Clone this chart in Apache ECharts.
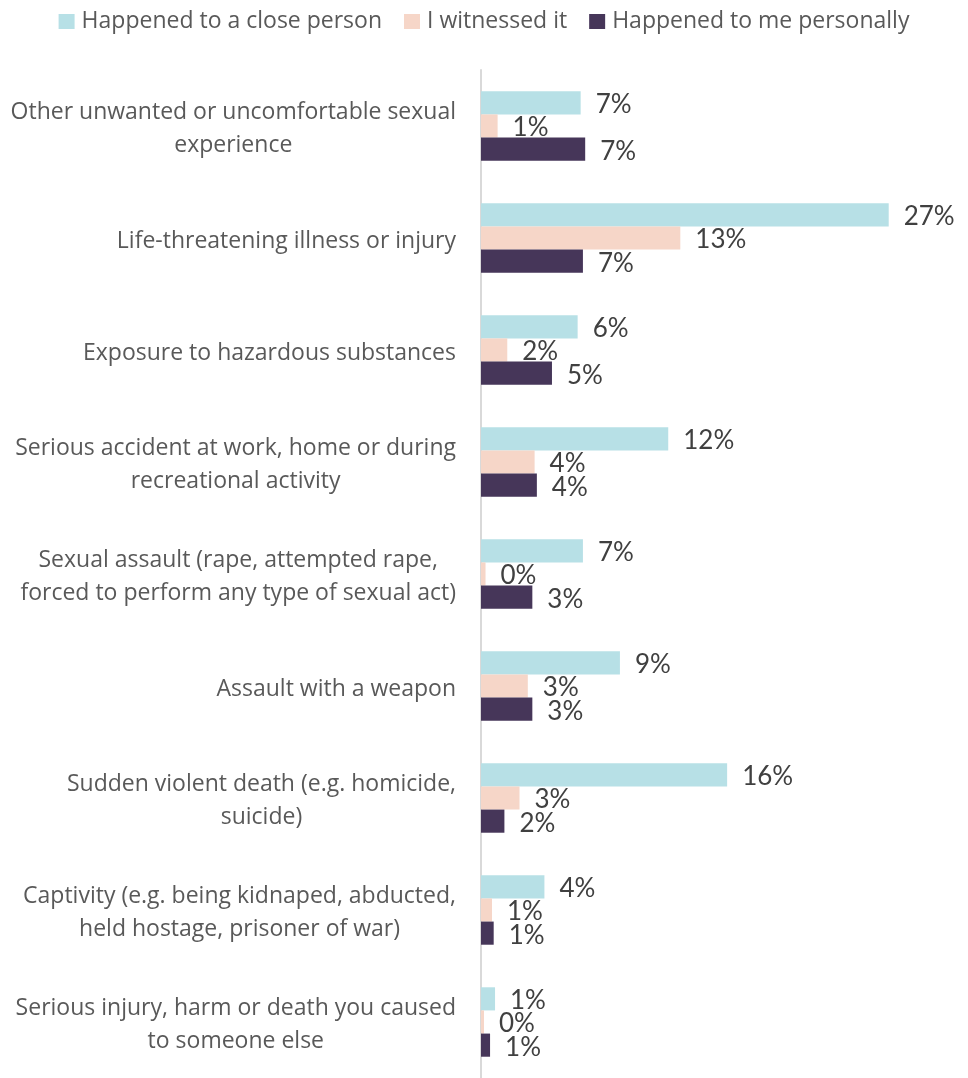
<!DOCTYPE html>
<html>
<head>
<meta charset="utf-8">
<script src="https://cdn.jsdelivr.net/npm/echarts@6/dist/echarts.min.js"></script>
<style>
  html, body { margin: 0; padding: 0; background: #fff; }
  #chart { width: 968px; height: 1078px; }
</style>
</head>
<body>
<div id="chart"></div>
<script>
const categories = [
  'Other unwanted or uncomfortable sexual\nexperience',
  'Life-threatening illness or injury',
  'Exposure to hazardous substances',
  'Serious accident at work, home or during\nrecreational activity',
  'Sexual assault (rape, attempted rape,\nforced to perform any type of sexual act)',
  'Assault with a weapon',
  'Sudden violent death (e.g. homicide,\nsuicide)',
  'Captivity (e.g. being kidnaped, abducted,\nheld hostage, prisoner of war)',
  'Serious injury, harm or death you caused\nto someone else'
]
const seriesNames = ['Happened to a close person', 'I witnessed it', 'Happened to me personally']
const closePerson = [6.6, 27.0, 6.4, 12.4, 6.75, 9.2, 16.3, 4.2, 0.93]
const witnessed = [1.1, 13.2, 1.74, 3.55, 0.3, 3.1, 2.55, 0.73, 0.2]
const personally = [6.9, 6.75, 4.7, 3.7, 3.4, 3.4, 1.55, 0.84, 0.6]

const colors = ['#b7e0e6', '#f6d6c8', '#463659']

const chart = echarts.init(document.getElementById('chart'))

const makeSeries = (name, data, color) => ({
  name: name,
  type: 'bar',
  data: data,
  barGap: '0%',
  barCategoryGap: '38%',
  itemStyle: {color: color},
  label: {
    show: true,
    position: 'right',
    distance: 15,
    offset: [0, 2],
    color: '#404040',
    fontFamily: 'Lato',
    fontSize: 26,
    formatter: (p) => Math.round(p.value) + '%',
  },
})

const options = {
  animation: false,
  legend: {
    top: 5,
    left: 'center',
    itemWidth: 16,
    itemHeight: 15,
    itemGap: 22,
    icon: 'rect',
    textStyle: {
      color: '#595959',
      fontFamily: 'Open Sans',
      fontSize: 23,
      padding: [0, 0, 0, 2],
    },
    data: seriesNames,
  },
  grid: {
    left: 481,
    right: 34,
    top: 70,
    height: 1012,
  },
  xAxis: {
    type: 'value',
    min: 0,
    max: 30,
    show: false,
  },
  yAxis: {
    type: 'category',
    inverse: true,
    data: categories,
    axisLine: {
      lineStyle: {color: '#d9d9d9', width: 2},
    },
    axisTick: {
      length: 8,
      lineStyle: {color: '#d9d9d9', width: 2},
    },
    axisLabel: {
      margin: 25,
      align: 'right',
      padding: [6, 0, 0, 0],
      // keep each line centred inside the right-anchored block
      formatter: (v) => v.split('\n').map((s) => '{c|' + s + '}').join('\n'),
      rich: {
        c: {
          align: 'center',
          color: '#595959',
          fontFamily: 'Open Sans',
          fontSize: 23,
          lineHeight: 33,
        },
      },
    },
  },
  series: [
    makeSeries(seriesNames[0], closePerson, colors[0]),
    makeSeries(seriesNames[1], witnessed, colors[1]),
    makeSeries(seriesNames[2], personally, colors[2]),
  ],
}
chart.setOption(options)
</script>
</body>
</html>
